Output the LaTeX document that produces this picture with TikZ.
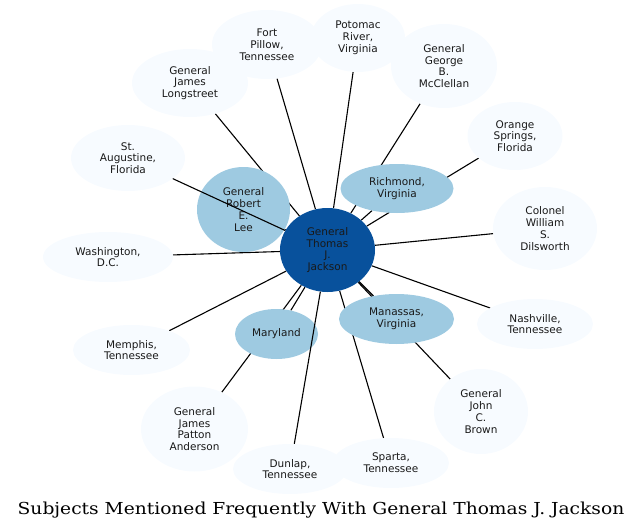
\documentclass[tikz,border=0pt]{standalone}
\usepackage{fontspec}
\setmainfont{DejaVu Sans}
\newfontfamily\titlefont[FakeStretch=1.13]{DejaVu Serif}
\usetikzlibrary{shapes.geometric}
\pgfdeclarelayer{background}
\pgfsetlayers{background,main}
\definecolor{blueA}{HTML}{F7FBFF}
\definecolor{blueB}{HTML}{9ECAE1}
\definecolor{blueC}{HTML}{08519C}
\tikzset{
  ent/.style={ellipse, inner sep=0pt, align=center, text=black!90,
    font=\fontsize{10.5}{11.8}\selectfont},
  lite/.style={ent, fill=blueA},
  mid/.style={ent, fill=blueB},
  core/.style={ent, fill=blueC},
  link/.style={draw=black, line width=1.1pt},
}
\begin{document}
\begin{tikzpicture}[x=1pt,y=-1pt]
\useasboundingbox (0,0) rectangle (641,530);
% peripheral nodes
\node[lite, minimum width=110pt, minimum height=69pt] (fort) at (267,44.5) {Fort\\Pillow,\\Tennessee};
\node[lite, minimum width=94pt, minimum height=68pt] (potomac) at (358,38) {Potomac\\River,\\Virginia};
\node[lite, minimum width=106pt, minimum height=84pt] (mcclellan) at (444,66) {General\\George\\B.\\McClellan};
\node[lite, minimum width=116pt, minimum height=68pt] (longstreet) at (190,83) {General\\James\\Longstreet};
\node[lite, minimum width=95pt, minimum height=68pt] (orange) at (515,136) {Orange\\Springs,\\Florida};
\node[lite, minimum width=114pt, minimum height=66pt] (staug) at (128,158) {St.\\Augustine,\\Florida};
\node[lite, minimum width=104pt, minimum height=83pt] (dilsworth) at (545,228.5) {Colonel\\William\\S.\\Dilsworth};
\node[lite, minimum width=130pt, minimum height=50pt] (washington) at (108,257) {Washington,\\D.C.};
\node[lite, minimum width=116pt, minimum height=50pt] (nashville) at (535,324) {Nashville,\\Tennessee};
\node[lite, minimum width=117pt, minimum height=50pt] (memphis) at (131.5,350) {Memphis,\\Tennessee};
\node[lite, minimum width=94pt, minimum height=85pt] (brown) at (481,411.5) {General\\John\\C.\\Brown};
\node[lite, minimum width=107pt, minimum height=85pt] (anderson) at (194.5,429) {General\\James\\Patton\\Anderson};
\node[lite, minimum width=114pt, minimum height=50pt] (dunlap) at (290,469) {Dunlap,\\Tennessee};
\node[lite, minimum width=116pt, minimum height=50pt] (sparta) at (391,463) {Sparta,\\Tennessee};
% secondary nodes
\node[mid, minimum width=93pt, minimum height=85pt] (lee) at (243.5,209.5) {General\\Robert\\E.\\Lee};
\node[mid, minimum width=113pt, minimum height=49pt] (richmond) at (397,188.5) {Richmond,\\Virginia};
\node[mid, minimum width=83pt, minimum height=50pt] (maryland) at (276.5,334) {Maryland};
\node[mid, minimum width=115pt, minimum height=50pt] (manassas) at (396.5,319) {Manassas,\\Virginia};
% centre
\node[core, minimum width=95pt, minimum height=84pt] (jackson) at (327.5,250) {General\\Thomas\\J.\\Jackson};
% connectors passing under nodes
\begin{pgfonlayer}{background}
\foreach \t in {fort,potomac,mcclellan,longstreet,orange,dilsworth,washington,nashville,memphis,brown,anderson,sparta,lee,richmond,maryland,manassas}
  \draw[link] (jackson) -- (\t);
\end{pgfonlayer}
% connectors drawn over nodes
\draw[link] (jackson) -- (staug);
\draw[link] (jackson) -- (dunlap);
% title
\node[anchor=base, inner sep=0pt] (title) at (321,514.3) {\titlefont\fontsize{16.5}{18}\selectfont Subjects Mentioned Frequently With General Thomas J. Jackson};
\end{tikzpicture}
\end{document}
